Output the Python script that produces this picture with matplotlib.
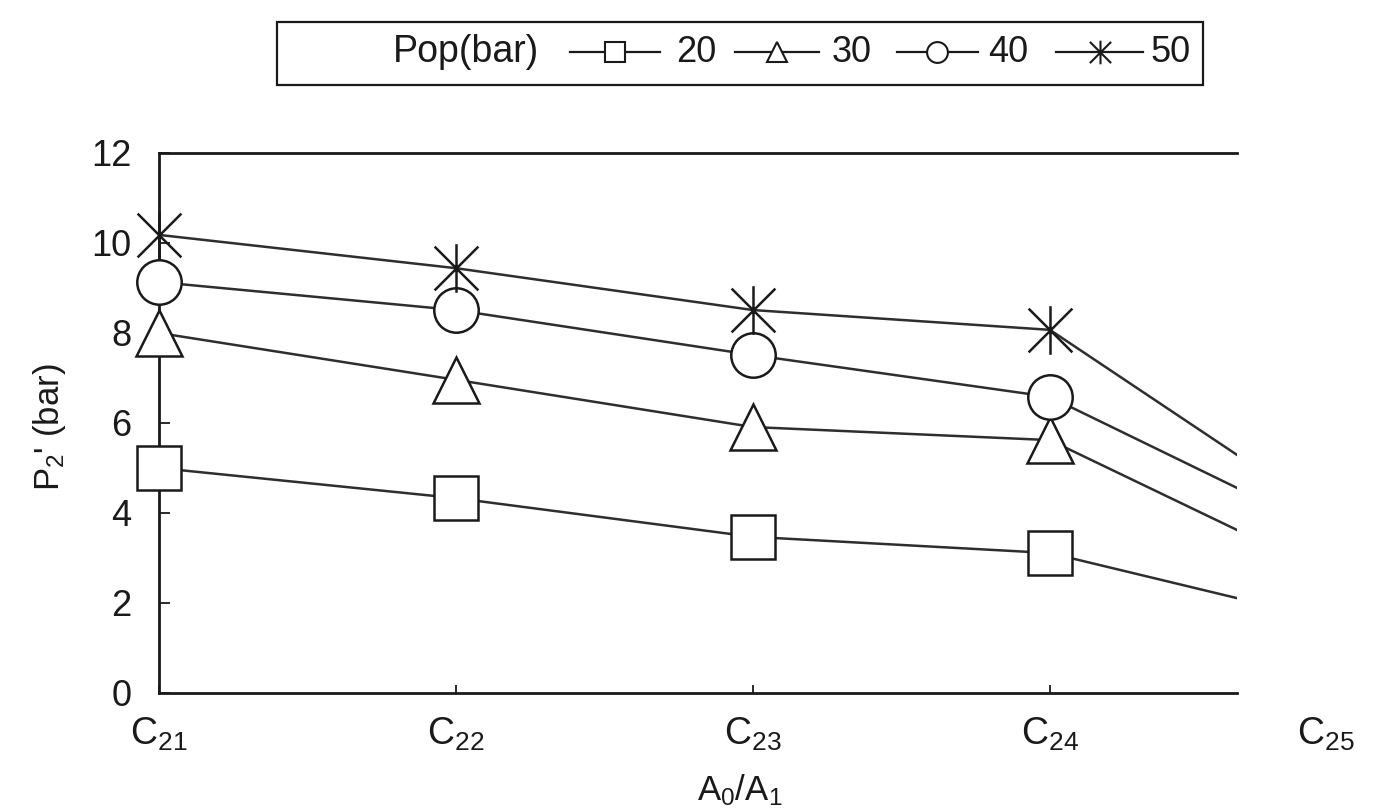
import matplotlib
matplotlib.use("Agg")
import matplotlib.pyplot as plt
from matplotlib.path import Path
from matplotlib.patches import Rectangle
from matplotlib.lines import Line2D

plt.rcParams['font.family'] = ['Liberation Sans', 'DejaVu Sans']
plt.rcParams['mathtext.default'] = 'regular'

#%% data
categories = ['C$_{21}$', 'C$_{22}$', 'C$_{23}$', 'C$_{24}$', 'C$_{25}$']
pop_labels = ['20', '30', '40', '50']
p20 = [5.00, 4.33, 3.47, 3.11, 1.52]
p30 = [8.00, 6.96, 5.91, 5.62, 2.45]
p40 = [9.13, 8.51, 7.51, 6.58, 3.37]
p50 = [10.18, 9.44, 8.51, 8.07, 3.66]
yticks = [0, 2, 4, 6, 8, 10, 12]

# asterisk with vertical arm + two diagonals
star = Path([(0, -1), (0, 1), (-0.9, -0.9), (0.9, 0.9), (-0.9, 0.9), (0.9, -0.9)],
            [Path.MOVETO, Path.LINETO, Path.MOVETO, Path.LINETO, Path.MOVETO, Path.LINETO])

series = [p20, p30, p40, p50]
markers = ['s', '^', 'o', star]
msizes = [31, 33, 32, 35]

ink = '#1a1a1a'

#%%
fig = plt.figure(figsize=(13.83, 8.09), dpi=100)
W, H = 1383, 809
ax = fig.add_axes([159 / W, 1 - 693 / H, (1237 - 159) / W, (693 - 153) / H])

x = list(range(len(categories)))
for vals, m, ms in zip(series, markers, msizes):
    ax.plot(x, vals, '-', color='#2e2e2e', lw=1.8, zorder=2)
    filled = m != star
    ax.plot(x[:4], vals[:4], ls='none', marker=m, ms=ms,
            mfc='white' if filled else 'none', mec=ink, mew=1.8,
            clip_on=False, zorder=5)

ax.set_xlim(0, 3.63)
ax.set_ylim(0, 12)
ax.spines['right'].set_visible(False)
for s in ['left', 'bottom', 'top']:
    ax.spines[s].set_linewidth(2.0)
    ax.spines[s].set_color(ink)

ax.set_yticks(yticks)
ax.set_xticks(x[:4])
ax.set_xticklabels(categories[:4])
ax.tick_params(axis='y', direction='in', length=8, width=1.3, pad=20, labelsize=26, colors=ink)
ax.tick_params(axis='x', direction='in', length=6, width=1.3, pad=16, labelsize=27, colors=ink)
ax.annotate(categories[4], xy=(3.93, 0), xycoords=('data', 'axes fraction'),
            xytext=(0, -16), textcoords='offset points', ha='center', va='top',
            fontsize=27, color=ink, annotation_clip=False)

fig.text(50 / W, 1 - 427 / H, "P$_2$' (bar)", rotation=90, ha='center', va='center',
         fontsize=25, color=ink)
fig.text(740 / W, 1 - 790 / H, 'A$_0$/A$_1$', ha='center', va='center',
         fontsize=25, color=ink)

#%% legend box drawn by hand to match the layout
fig.add_artist(Rectangle((277 / W, 1 - 85 / H), (1203 - 277) / W, (85 - 22) / H,
                         transform=fig.transFigure, fill=False, lw=1.6, ec=ink))
ly = 1 - 52 / H
fig.text(393 / W, ly, 'Pop(bar)', ha='left', va='center', fontsize=27, color=ink)
leg_x = [(570, 660, 676), (735, 819, 832), (897, 978, 988), (1056, 1143, 1150)]
leg_ms = [14, 15, 15, 17]
for (x0, x1, tx), m, ms, lab in zip(leg_x, markers, leg_ms, pop_labels):
    fig.add_artist(Line2D([x0 / W, x1 / W], [ly, ly], transform=fig.transFigure,
                          color=ink, lw=1.6))
    filled = m != star
    fig.add_artist(Line2D([(x0 + x1) / 2 / W], [ly], transform=fig.transFigure,
                          ls='none', marker=m, ms=ms, mfc='white' if filled else 'none',
                          mec=ink, mew=1.5))
    fig.text(tx / W, ly, lab, ha='left', va='center', fontsize=26, color=ink)

fig.savefig('out.png', dpi=100)
